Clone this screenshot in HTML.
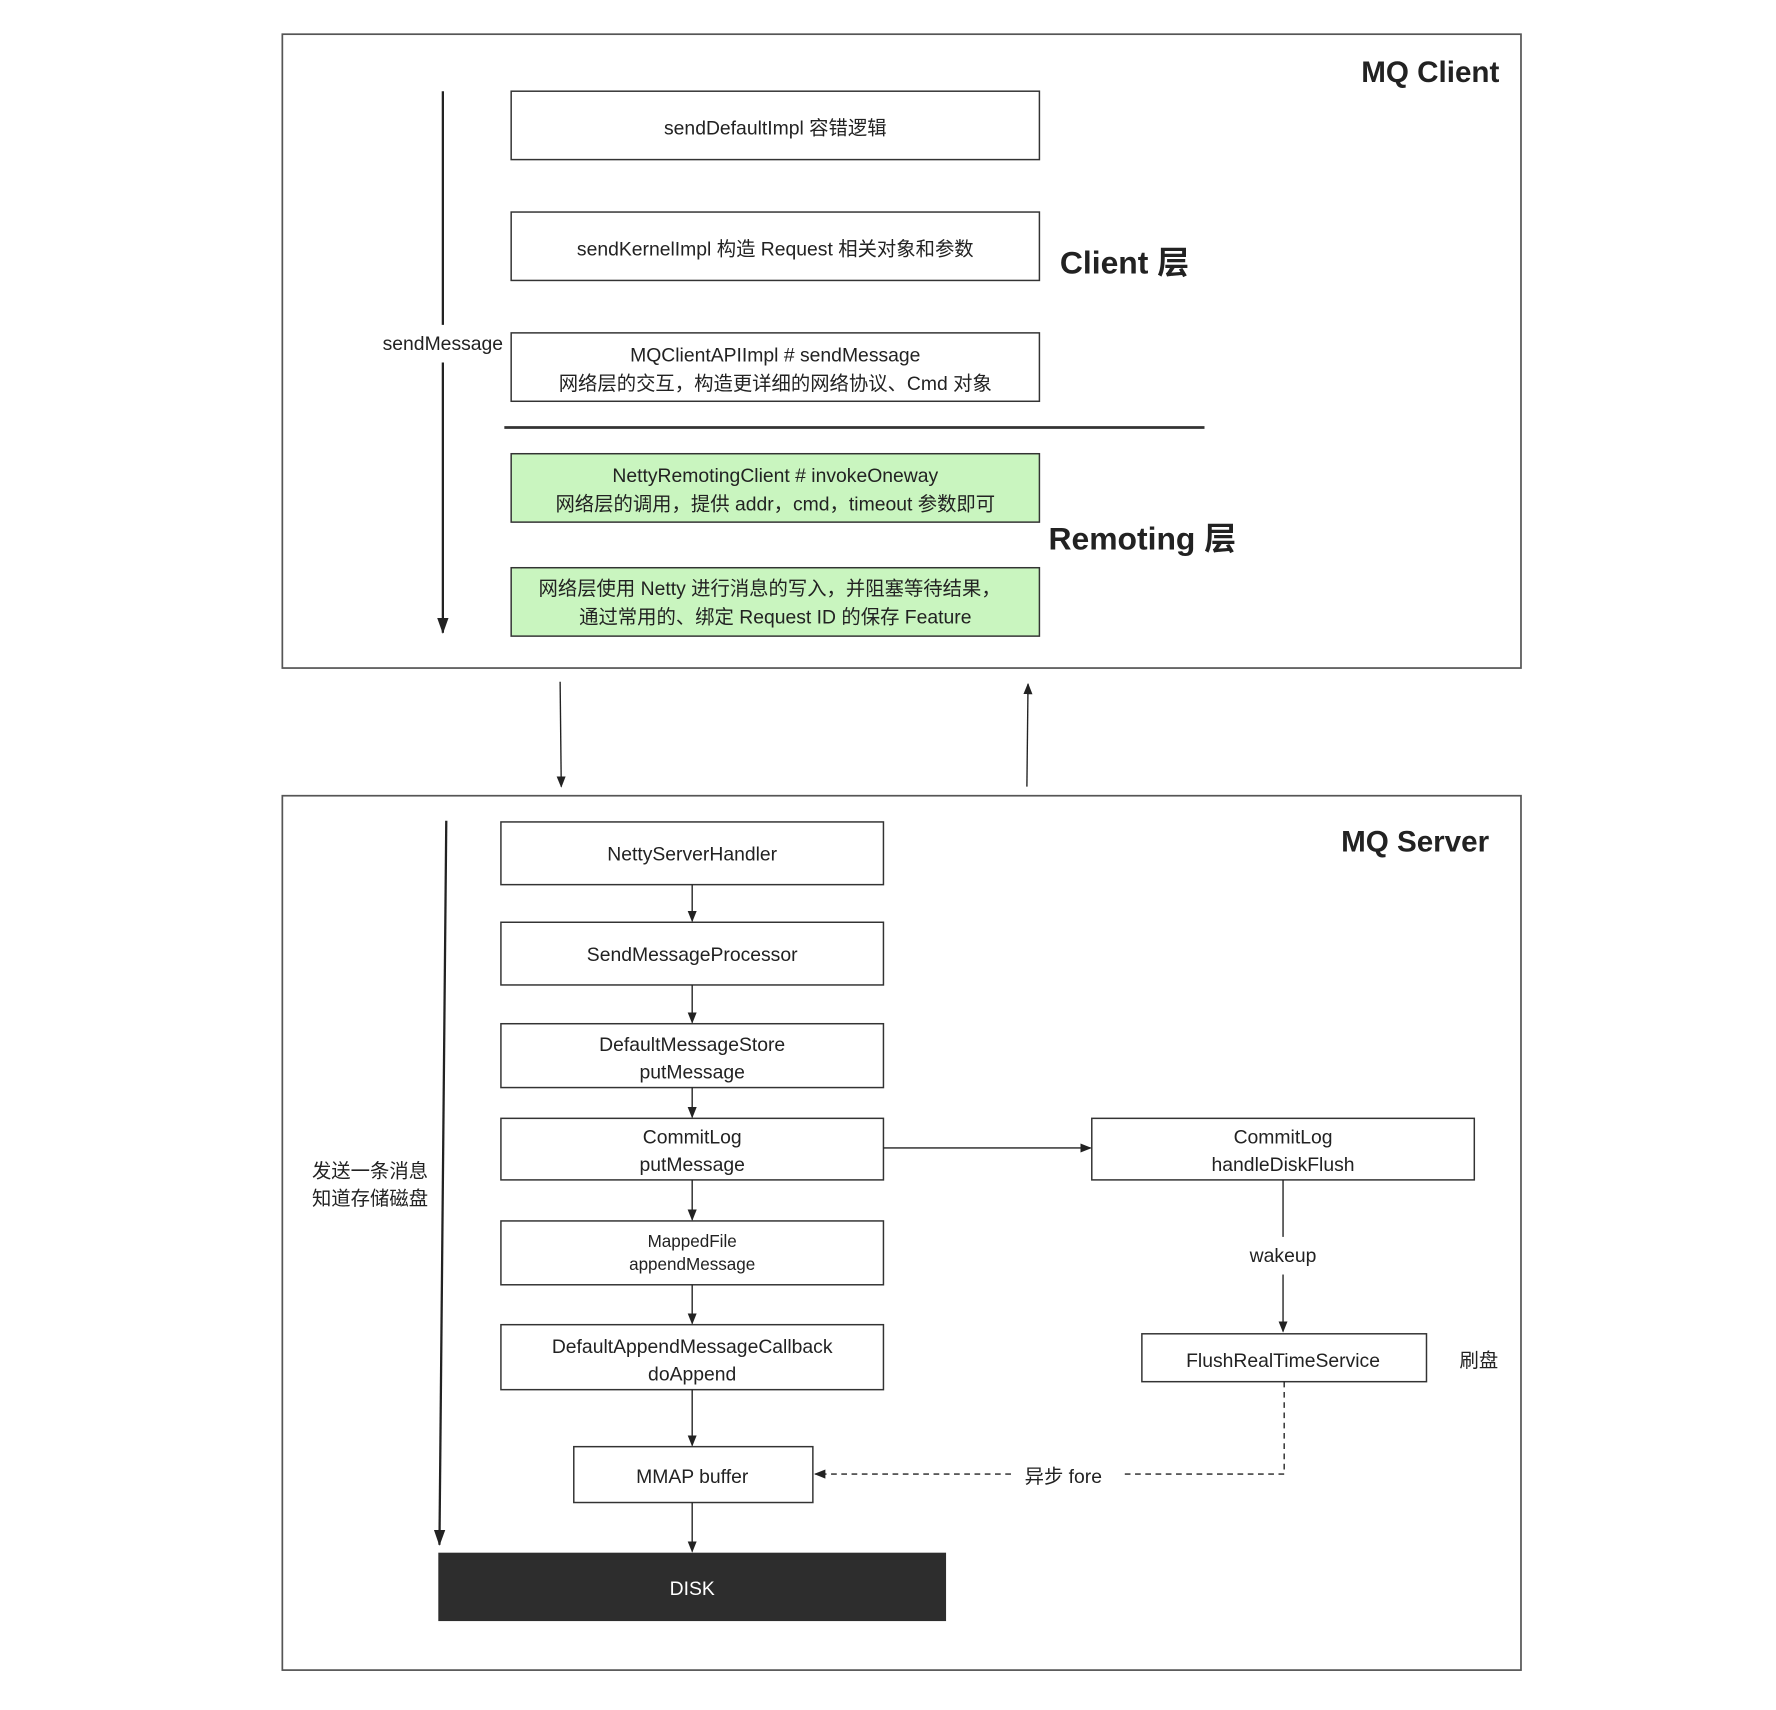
<!DOCTYPE html>
<html><head><meta charset="utf-8"><style>
html,body{margin:0;padding:0;background:#fff;}
svg{display:block;}
text{font-family:"Liberation Sans","Noto Sans CJK SC",sans-serif;fill:#222;}
</style></head><body>
<svg width="1776" height="1710" viewBox="0 0 1560 1500" preserveAspectRatio="none" xmlns="http://www.w3.org/2000/svg">
<defs>
<marker id="a" markerWidth="10" markerHeight="10" refX="9" refY="5" orient="auto" markerUnits="userSpaceOnUse"><path d="M0,1 L10,5 L0,9 z" fill="#222"/></marker>
<marker id="b" markerWidth="14" markerHeight="14" refX="13" refY="7" orient="auto" markerUnits="userSpaceOnUse"><path d="M0,2 L14,7 L0,12 z" fill="#222"/></marker>
</defs>
<g fill="none" stroke="#555" stroke-width="1.5">
<rect x="248" y="30" width="1088" height="556"/>
<rect x="248" y="698" width="1088" height="767"/>
</g>
<g stroke="#333" stroke-width="1.3">
<rect x="449" y="80" width="464" height="60" fill="#fff"/>
<rect x="449" y="186" width="464" height="60" fill="#fff"/>
<rect x="449" y="292" width="464" height="60" fill="#fff"/>
<rect x="449" y="398" width="464" height="60" fill="#c9f5bf"/>
<rect x="449" y="498" width="464" height="60" fill="#c9f5bf"/>
<rect x="440" y="721" width="336" height="55" fill="#fff"/>
<rect x="440" y="809" width="336" height="55" fill="#fff"/>
<rect x="440" y="898" width="336" height="56" fill="#fff"/>
<rect x="440" y="981" width="336" height="54" fill="#fff"/>
<rect x="440" y="1071" width="336" height="56" fill="#fff"/>
<rect x="440" y="1162" width="336" height="57" fill="#fff"/>
<rect x="504" y="1269" width="210" height="49" fill="#fff"/>
<rect x="959" y="981" width="336" height="54" fill="#fff"/>
<rect x="1003" y="1170" width="250" height="42" fill="#fff"/>
</g>
<rect x="385" y="1362" width="446" height="60" fill="#2d2d2d"/>
<line x1="443" y1="375" x2="1058" y2="375" stroke="#333" stroke-width="2.5"/>
<g stroke="#222" stroke-width="2">
<line x1="389" y1="80" x2="389" y2="285"/>
<line x1="389" y1="318" x2="389" y2="555" marker-end="url(#b)"/>
<line x1="392" y1="720" x2="386" y2="1355" marker-end="url(#b)"/>
</g>
<g stroke="#222" stroke-width="1.2">
<line x1="492" y1="598" x2="493" y2="690" marker-end="url(#a)"/>
<line x1="902" y1="690" x2="903" y2="600" marker-end="url(#a)"/>
<line x1="608" y1="776" x2="608" y2="808" marker-end="url(#a)"/>
<line x1="608" y1="864" x2="608" y2="897" marker-end="url(#a)"/>
<line x1="608" y1="954" x2="608" y2="980" marker-end="url(#a)"/>
<line x1="608" y1="1035" x2="608" y2="1070" marker-end="url(#a)"/>
<line x1="608" y1="1127" x2="608" y2="1161" marker-end="url(#a)"/>
<line x1="608" y1="1219" x2="608" y2="1268" marker-end="url(#a)"/>
<line x1="608" y1="1318" x2="608" y2="1361" marker-end="url(#a)"/>
<line x1="776" y1="1007" x2="958" y2="1007" marker-end="url(#a)"/>
<line x1="1127" y1="1035" x2="1127" y2="1085"/>
<line x1="1127" y1="1118" x2="1127" y2="1168" marker-end="url(#a)"/>
<path d="M1128,1212 L1128,1293 L986,1293" fill="none" stroke-dasharray="5,4"/>
<line x1="888" y1="1293" x2="716" y2="1293" stroke-dasharray="5,4" marker-end="url(#a)"/>
</g>
<g font-size="17" text-anchor="middle">
<text x="681" y="118">sendDefaultImpl 容错逻辑</text>
<text x="681" y="224">sendKernelImpl 构造 Request 相关对象和参数</text>
<text x="681" y="317">MQClientAPIImpl # sendMessage</text>
<text x="681" y="342">网络层的交互，构造更详细的网络协议、Cmd 对象</text>
<text x="681" y="423">NettyRemotingClient # invokeOneway</text>
<text x="681" y="448">网络层的调用，提供 addr，cmd，timeout 参数即可</text>
<text x="676" y="522">网络层使用 Netty 进行消息的写入，并阻塞等待结果，</text>
<text x="681" y="547">通过常用的、绑定 Request ID 的保存 Feature</text>
<text x="389" y="307">sendMessage</text>
<text x="608" y="755">NettyServerHandler</text>
<text x="608" y="843">SendMessageProcessor</text>
<text x="608" y="922">DefaultMessageStore</text>
<text x="608" y="946">putMessage</text>
<text x="608" y="1003">CommitLog</text>
<text x="608" y="1027">putMessage</text>
<text x="608" y="1094" font-size="15">MappedFile</text>
<text x="608" y="1114" font-size="15">appendMessage</text>
<text x="608" y="1187">DefaultAppendMessageCallback</text>
<text x="608" y="1211">doAppend</text>
<text x="608" y="1301">MMAP buffer</text>
<text x="608" y="1399" style="fill:#fff">DISK</text>
<text x="1127" y="1003">CommitLog</text>
<text x="1127" y="1027">handleDiskFlush</text>
<text x="1127" y="1107">wakeup</text>
<text x="1127" y="1199">FlushRealTimeService</text>
<text x="1299" y="1199">刷盘</text>
<text x="934" y="1301">异步 fore</text>
<text x="325" y="1033">发送一条消息</text>
<text x="325" y="1057">知道存储磁盘</text>
</g>
<g font-size="26" font-weight="bold">
<text x="1317" y="72" text-anchor="end">MQ Client</text>
<text x="1308" y="747" text-anchor="end">MQ Server</text>
<text x="931" y="240" font-size="28">Client 层</text>
<text x="921" y="482" font-size="28">Remoting 层</text>
</g>
</svg>
</body></html>
